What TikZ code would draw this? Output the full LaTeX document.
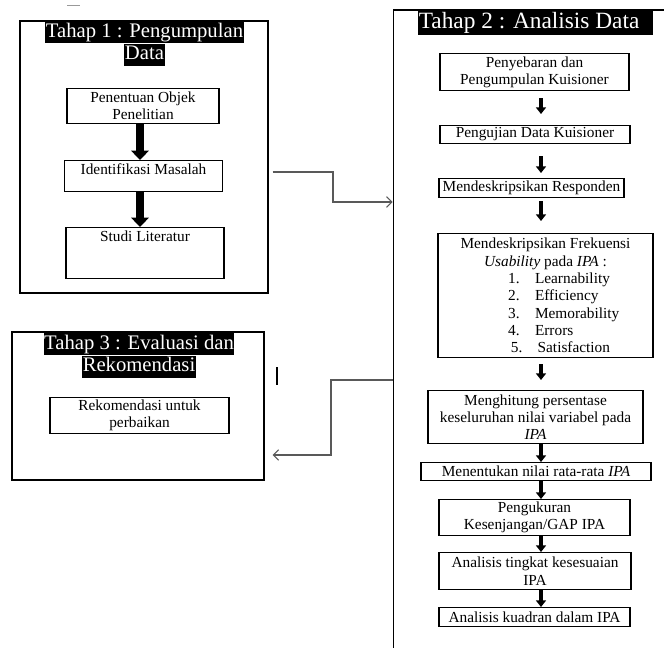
\documentclass[tikz,border=0pt]{standalone}
\usepackage{fontspec}
\setmainfont{Liberation Serif}
\usetikzlibrary{arrows.meta,positioning,calc}

\begin{document}
\begin{tikzpicture}[x=0.75pt, y=-0.75pt,
    every node/.style={font=\fontsize{11.5}{13}\selectfont},
    stage/.style={draw, line width=0.8pt, inner sep=0pt},
    titlebar/.style={fill=black, text=white, inner xsep=0.5pt, inner ysep=0pt, text height=12pt, text depth=4.5pt, font=\fontsize{15.5}{17}\selectfont},
    stepbox/.style={draw, line width=0.8pt, align=center, inner xsep=2pt, inner ysep=1pt, anchor=north},
    fatarrow/.style={line width=6pt, -{Triangle[length=7pt,width=13pt]}},
    thinarrow/.style={line width=2.6pt, -{Triangle[length=5pt,width=7.5pt]}},
    link/.style={draw=black!65, line width=0.8pt, -{Straight Barb[length=4pt,width=8pt]}}]

    \useasboundingbox (0,0) rectangle (664,647);
    \clip (0,0) rectangle (664,647);

    % Tahap 1
    \node[stage, minimum width=186pt, minimum height=204pt] (s1) at (144,157) {};
    \node[titlebar, anchor=north] (t1a) at (144.5,21) {Tahap 1 : Pengumpulan};
    \node[titlebar, below=0pt of t1a] (t1b) {Data};

    \node[stepbox, minimum width=114pt, minimum height=26pt] (b1) at (143,88) {Penentuan Objek\\Penelitian};
    \node[stepbox, minimum width=118pt, inner ysep=2pt, text height=8.5pt, text depth=10.75pt] (b2) at (143.5,160) {Identifikasi Masalah};
    \node[stepbox, minimum width=118.5pt, inner ysep=2pt, text height=8.5pt, text depth=25.75pt] (b3) at (145,227) {Studi Literatur};

    \coordinate (a1) at (140,0);
    \draw[fatarrow] (b1.south -| a1) -- (b2.north -| a1);
    \draw[fatarrow] (b2.south -| a1) -- (b3.north -| a1);

    % Tahap 2
    \node[stage, minimum width=230pt, minimum height=517.5pt] (s2) at (546.5,355) {};
    \node[titlebar, anchor=north, font=\fontsize{17.5}{18}\selectfont, text height=13pt, text depth=5pt] (t2) at (535.5,11) {Tahap 2 : Analisis Data\hspace*{0.55em}};

    \node[stepbox, minimum width=141.75pt, minimum height=27.75pt] (c1) at (534.5,53) {Penyebaran dan\\Pengumpulan Kuisioner};
    \node[stepbox, minimum width=142.5pt, minimum height=13.5pt] (c2) at (535,125) {Pengujian Data Kuisioner};
    \node[stepbox, minimum width=138.75pt, minimum height=14.25pt] (c3) at (531.5,178) {Mendeskripsikan Responden};
    \node[stepbox, minimum width=161.25pt, minimum height=93pt] (c4) at (545.5,233) {Mendeskripsikan Frekuensi\\
        \textit{Usability} pada \textit{IPA} :\\
        \hspace*{24pt}\makebox[80pt][l]{1.\quad Learnability}\\
        \hspace*{24pt}\makebox[80pt][l]{2.\quad Efficiency}\\
        \hspace*{24pt}\makebox[80pt][l]{3.\quad Memorability}\\
        \hspace*{24pt}\makebox[80pt][l]{4.\quad Errors}\\
        \hspace*{24pt}\makebox[80pt][l]{\hspace{2pt}5.\quad Satisfaction}};
    \node[stepbox, minimum width=161.25pt, minimum height=39.75pt] (c5) at (535.5,390) {Menghitung persentase\\keseluruhan nilai variabel pada\\\textit{IPA}};
    \node[stepbox, minimum width=172.5pt, minimum height=13.5pt] (c6) at (536,462) {Menentukan nilai rata-rata \textit{IPA}};
    \node[stepbox, minimum width=143.25pt, minimum height=27pt] (c7) at (534.5,499) {Pengukuran\\Kesenjangan/GAP IPA};
    \node[stepbox, minimum width=144pt, minimum height=27.75pt] (c8) at (535,552) {Analisis tingkat kesesuaian\\IPA};
    \node[stepbox, minimum width=143.25pt, minimum height=14.25pt] (c9) at (534.5,607) {Analisis kuadran dalam IPA};

    \coordinate (a2) at (541,0);
    \draw[thinarrow] ($(c1.south -| a2)+(0,7)$) -- ($(c2.north -| a2)+(0,-11)$);
    \draw[thinarrow] ($(c2.south -| a2)+(0,12)$) -- ($(c3.north -| a2)+(0,-5)$);
    \draw[thinarrow] ($(c3.south -| a2)+(0,3)$) -- ($(c4.north -| a2)+(0,-12)$);
    \draw[thinarrow] ($(c4.south -| a2)+(0,6)$) -- ($(c5.north -| a2)+(0,-10)$);
    \draw[thinarrow] (c5.south -| a2) -- (c6.north -| a2);
    \draw[thinarrow] (c6.south -| a2) -- (c7.north -| a2);
    \draw[thinarrow] (c7.south -| a2) -- (c8.north -| a2);
    \draw[thinarrow] (c8.south -| a2) -- (c9.north -| a2);

    % Tahap 3
    \node[stage, minimum width=189pt, minimum height=111pt] (s3) at (138,406) {};
    \node[titlebar, anchor=north] (t3a) at (139,333) {Tahap 3 : Evaluasi dan};
    \node[titlebar, below=0pt of t3a] (t3b) {Rekomendasi};
    \node[stepbox, minimum width=134.25pt, minimum height=27pt] (r1) at (139.5,397) {Rekomendasi untuk\\perbaikan};

    % connectors between stages
    \coordinate (k1) at (333,202);
    \draw[link] ([shift={(4,15)}]s1.east) -| (k1) -- (k1 -| s2.west);
    \coordinate (k2) at (331,380);
    \draw[link] (k2 -| s2.west) -- (k2) |- ([shift={(8,49)}]s3.east);

    % stray marks
    \draw[black!40, line width=0.6pt] (67,5) -- (80,5);
    \draw[line width=1pt] (277,367) -- (277,385);
\end{tikzpicture}
\end{document}
